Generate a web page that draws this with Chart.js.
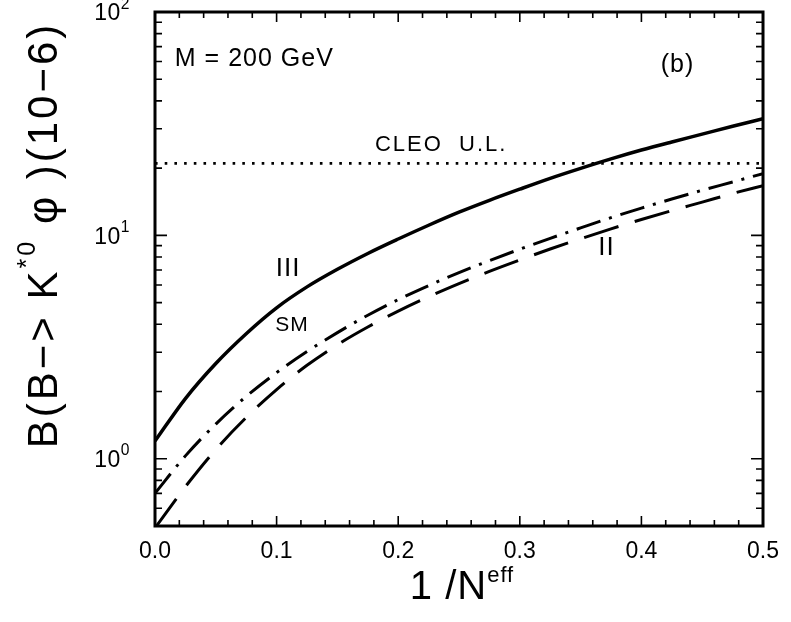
<!DOCTYPE html>
<html>
<head>
<meta charset="utf-8">
<script src="https://cdn.jsdelivr.net/npm/chart.js@4/dist/chart.umd.min.js"></script>
<style>
html,body{margin:0;padding:0;background:#fff;}
#wrap{width:791px;height:622px;position:relative;}
</style>
</head>
<body>
<div id="wrap"><canvas id="c" width="791" height="622"></canvas></div>
<script>
// ---- data ----
const xValues  = [0, 0.025, 0.05, 0.075, 0.1, 0.125, 0.15, 0.175, 0.2, 0.225, 0.25, 0.275, 0.3, 0.325, 0.35, 0.375, 0.4, 0.425, 0.45, 0.475, 0.5];
const curveIII = [1.2, 1.86, 2.67, 3.63, 4.74, 5.88, 7.05, 8.30, 9.63, 11.1, 12.7, 14.35, 16.1, 18.0, 19.95, 22.0, 24.1, 26.2, 28.4, 30.8, 33.3];
const curveSM  = [0.70, 1.03, 1.43, 1.90, 2.43, 3.02, 3.67, 4.39, 5.16, 5.96, 6.81, 7.71, 8.67, 9.70, 10.8, 12.0, 13.24, 14.55, 15.92, 17.34, 18.9];
const curveII  = [0.49, 0.75, 1.10, 1.53, 2.04, 2.62, 3.24, 3.89, 4.58, 5.31, 6.08, 6.90, 7.76, 8.69, 9.66, 10.69, 11.78, 12.91, 14.09, 15.4, 16.7];
const cleoUpperLimit = 21;
const xRange = [0, 0.5];
const yRange = [0.5, 100];
const xMajorTicks = [0, 0.1, 0.2, 0.3, 0.4, 0.5];
const xMinorTicks = [0.02,0.04,0.06,0.08,0.12,0.14,0.16,0.18,0.22,0.24,0.26,0.28,0.32,0.34,0.36,0.38,0.42,0.44,0.46,0.48];
const yMajorTicks = [1, 10, 100];
const yMajorExponents = ['0', '1', '2'];
const yMinorTicks = [0.5,0.6,0.7,0.8,0.9,2,3,4,5,6,7,8,9,20,30,40,50,60,70,80,90];
const curveLabels = [
  {text: 'III', x: 0.1095, y: 7.07, size: 26, spacing: 1},
  {text: 'SM',  x: 0.1127, y: 3.96, size: 21, spacing: 1},
  {text: 'II',  x: 0.3713, y: 8.82, size: 26, spacing: 1},
  {text: 'CLEO  U.L.', x: 0.2353, y: 25.5, size: 22, spacing: 2},
  {text: '(b)', x: 0.4297, y: 57.8, size: 25, spacing: 1}
];
const massLabel = {text: 'M = 200 GeV', x: 0.0163, y: 61.5, size: 25, spacing: 1};

const FONT = '"Liberation Sans", Arial, Helvetica, sans-serif';
const pts = arr => xValues.map((x, i) => ({x: x, y: arr[i]}));

function drawRich(ctx, segs, x, y, base, align, spacing) {
  ctx.letterSpacing = (spacing || 0) + 'px';
  let total = 0;
  segs.forEach(s => { ctx.font = (base * (s.scale || 1)) + 'px ' + FONT; s.w = ctx.measureText(s.t).width; total += s.w; });
  let cx = align === 'center' ? x - total / 2 : (align === 'right' ? x - total : x);
  ctx.textAlign = 'left';
  segs.forEach(s => {
    ctx.font = (base * (s.scale || 1)) + 'px ' + FONT;
    ctx.fillText(s.t, cx, y - (s.rise || 0) * base);
    cx += s.w;
  });
  ctx.letterSpacing = '0px';
  return total;
}

const framePlugin = {
  id: 'frame',
  afterDatasetsDraw(chart) {
    const ctx = chart.ctx, a = chart.chartArea;
    const xs = chart.scales.x, ys = chart.scales.y;
    ctx.save();
    ctx.strokeStyle = '#000';
    ctx.fillStyle = '#000';
    // ticks (inside)
    ctx.lineWidth = 1.6;
    ctx.beginPath();
    const tx = (v, len) => { const p = xs.getPixelForValue(v); ctx.moveTo(p, a.bottom); ctx.lineTo(p, a.bottom - len); ctx.moveTo(p, a.top); ctx.lineTo(p, a.top + len); };
    const ty = (v, len) => { const p = ys.getPixelForValue(v); ctx.moveTo(a.left, p); ctx.lineTo(a.left + len, p); ctx.moveTo(a.right, p); ctx.lineTo(a.right - len, p); };
    xMajorTicks.forEach(v => tx(v, 10));
    xMinorTicks.forEach(v => tx(v, 6));
    yMajorTicks.forEach(v => ty(v, 12));
    yMinorTicks.forEach(v => ty(v, 7));
    ctx.stroke();
    // frame
    ctx.lineWidth = 3;
    ctx.strokeRect(a.left, a.top, a.right - a.left, a.bottom - a.top);
    // y tick labels 10^n
    ctx.textBaseline = 'middle';
    yMajorTicks.forEach((v, i) => {
      const p = ys.getPixelForValue(v);
      drawRich(ctx, [{t: '10', scale: 1}, {t: yMajorExponents[i], scale: 0.68, rise: 0.42}], a.left - 25, p + 2, 23, 'right', 0.5);
    });
    // annotations
    curveLabels.forEach(l => {
      drawRich(ctx, [{t: l.text}], xs.getPixelForValue(l.x), ys.getPixelForValue(l.y), l.size, 'center', l.spacing);
    });
    drawRich(ctx, [{t: massLabel.text}], xs.getPixelForValue(massLabel.x), ys.getPixelForValue(massLabel.y), massLabel.size, 'left', massLabel.spacing);
    // x title
    ctx.textBaseline = 'alphabetic';
    drawRich(ctx, [{t: '1 /N', scale: 1}, {t: 'eff', scale: 0.55, rise: 0.42}], (a.left + a.right) / 2 + 3, 599, 40, 'center', 1);
    // y title
    ctx.translate(45, 235);
    ctx.rotate(-Math.PI / 2);
    ctx.textBaseline = 'middle';
    drawRich(ctx, [
      {t: 'B(B\u2212> K', scale: 1},
      {t: '*0', scale: 0.6, rise: 0.4},
      {t: ' \u03C6 )(10\u22126)', scale: 1}
    ], 0, 0, 42, 'center', 3);
    ctx.restore();
  }
};

new Chart(document.getElementById('c'), {
  type: 'line',
  data: {
    datasets: [
      {label: 'III', data: pts(curveIII), borderColor: '#000', borderWidth: 3.5, pointRadius: 0, cubicInterpolationMode: 'monotone', fill: false},
      {label: 'SM', data: pts(curveSM), borderColor: '#000', borderWidth: 3, borderDash: [25, 9, 3, 9], pointRadius: 0, cubicInterpolationMode: 'monotone', fill: false},
      {label: 'II', data: pts(curveII), borderColor: '#000', borderWidth: 3, borderDash: [36, 17], pointRadius: 0, cubicInterpolationMode: 'monotone', fill: false},
      {label: 'CLEO U.L.', data: [{x: xRange[0], y: cleoUpperLimit}, {x: xRange[1], y: cleoUpperLimit}], borderColor: '#000', borderWidth: 2.6, borderDash: [2.6, 7.1], pointRadius: 0, fill: false}
    ]
  },
  options: {
    responsive: false,
    animation: false,
    layout: {padding: {top: 12, right: 24, left: 0, bottom: 0}},
    plugins: {legend: {display: false}, tooltip: {enabled: false}},
    scales: {
      x: {
        type: 'linear', min: xRange[0], max: xRange[1],
        grid: {display: false, drawTicks: false}, border: {display: false},
        afterBuildTicks: s => { s.ticks = xMajorTicks.map(v => ({value: v})); },
        ticks: {color: '#000', font: {family: FONT, size: 23}, padding: 12, maxRotation: 0, callback: v => Number(v).toFixed(1)},
        afterFit: s => { s.height = 96; }
      },
      y: {
        type: 'logarithmic', min: yRange[0], max: yRange[1],
        grid: {display: false, drawTicks: false}, border: {display: false},
        ticks: {display: false},
        afterFit: s => { s.width = 155; }
      }
    }
  },
  plugins: [framePlugin]
});
</script>
</body>
</html>
